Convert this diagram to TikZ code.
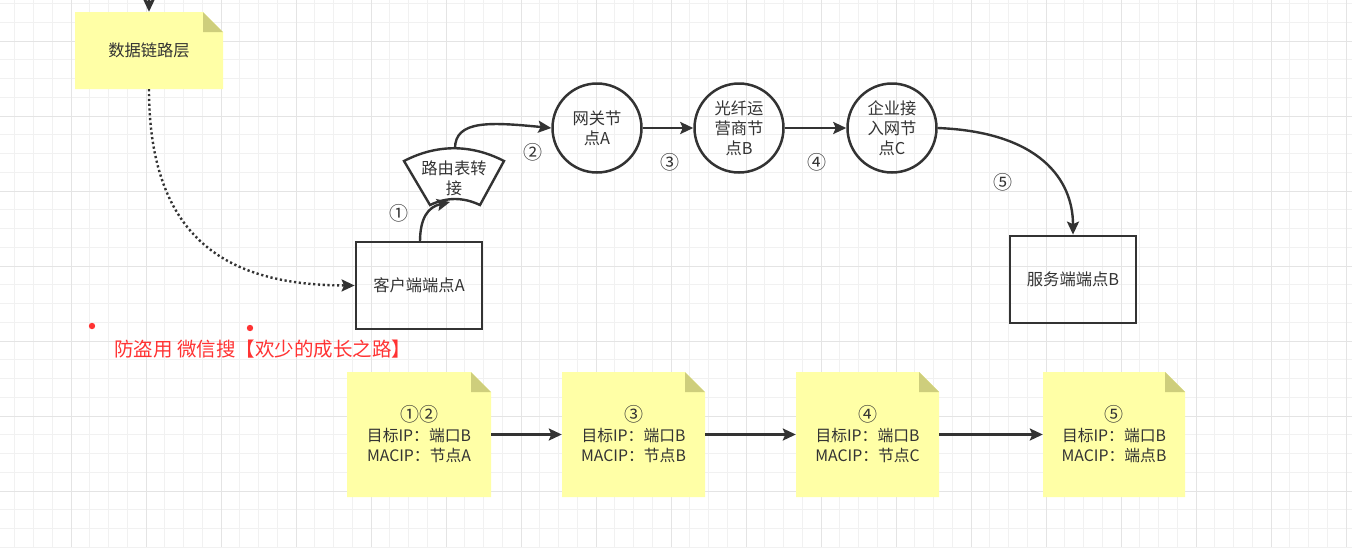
\documentclass[tikz,border=0pt]{standalone}
\usepackage{fontspec}
\setmainfont{Noto Sans CJK SC}
\usetikzlibrary{arrows.meta,calc}
\definecolor{txt}{HTML}{333333}
\definecolor{ln}{HTML}{333333}
\definecolor{notefill}{HTML}{FFFFA6}
\definecolor{foldfill}{HTML}{CECE7C}
\definecolor{gridminor}{HTML}{F1F1F1}
\definecolor{gridmajor}{HTML}{E4E4E4}
\definecolor{warnred}{HTML}{FF3333}
\newcommand{\circd}[1]{{\fontsize{19}{20}\selectfont #1}}
\tikzset{
  lbl/.style={text=txt,font=\fontsize{16.3}{20}\selectfont,align=center,inner sep=0pt},
  notebox/.style={lbl,font=\fontsize{15.8}{20}\selectfont,draw=none,minimum width=#1,minimum height=125pt},
  boxnode/.style={lbl,draw=ln,line width=2.8pt,minimum width=126pt,minimum height=87pt},
  circnode/.style={lbl,draw=ln,line width=2.5pt,circle,minimum size=89pt},
  conn/.style={draw=ln,line width=2.4pt,-{Stealth[length=13pt,width=12pt,inset=2.5pt]}},
  dotconn/.style={draw=ln,line width=2.4pt,dash pattern=on 2.2pt off 2.6pt,-{Stealth[length=13pt,width=12pt,inset=2.5pt]}},
  steplabel/.style={lbl,font=\fontsize{19}{20}\selectfont},
}
\newcommand{\notebg}[4]{%
  \fill[notefill] (#1,#2) -- (#3-20,#2) -- (#3,#2+20) -- (#3,#4) -- (#1,#4) -- cycle;
  \fill[foldfill] (#3-20,#2) -- (#3-20,#2+20) -- (#3,#2+20) -- cycle;}
\begin{document}
\begin{tikzpicture}[x=1pt,y=-1pt]
\useasboundingbox (0,0) rectangle (1352,547);
\fill[white] (0,0) rectangle (1352,547);
% grid
\foreach \k in {-3,...,68} \draw[gridminor,line width=1pt] ({71+18.75*\k},0) -- ({71+18.75*\k},547);
\foreach \k in {-2,...,27} \draw[gridminor,line width=1pt] (0,{41+18.75*\k}) -- (1352,{41+18.75*\k});
\foreach \k in {-1,...,17} \draw[gridmajor,line width=1pt] ({71+75*\k},0) -- ({71+75*\k},547);
\foreach \k in {-1,...,6} \draw[gridmajor,line width=1pt] (0,{41+75*\k}) -- (1352,{41+75*\k});

% note backgrounds
\notebg{75}{12}{223}{89}
\notebg{347}{372}{491}{497}
\notebg{562}{372}{705}{497}
\notebg{796}{372}{939}{497}
\notebg{1043}{372}{1185}{497}

% top note
\node[lbl,minimum width=148pt,minimum height=77pt] (dll) at (149,50.5) {数据链路层};
\coordinate (topin) at (149,-10);
\draw[conn] (topin) -- (dll.north);

% client box
\node[boxnode] (client) at (419,285.5) {客户端端点A};
% routing fan shape
\draw[ln,line width=2.4pt,fill=white] (404,161) .. controls (437,144) and (471,144) .. (504,161)
  -- (480,205) .. controls (463,197) and (447,197) .. (430,205) -- cycle;
\node[lbl] (route) at (454,178) {路由表转\\接};
\coordinate (routeTop) at (455,148.5);
\coordinate (routeBot) at (450,202);
\coordinate (clientTop) at (420,242);

% circles
\node[circnode] (gwA) at (597,128) {网关节\\点A};
\node[circnode] (ispB) at (739,128) {光纤运\\营商节\\点B};
\node[circnode] (entC) at (892,128) {企业接\\入网节\\点C};

% server box
\node[boxnode] (server) at (1073,279.5) {服务端端点B};

% connectors
\draw[dotconn] (dll.south) .. controls (149,250) and (240,285) .. (client.west);
\draw[conn] (clientTop) .. controls (420,218) and (428,207) .. (routeBot);
\draw[conn] (routeTop) .. controls (455,120) and (490,122) .. (gwA.west);
\draw[conn] (gwA.east) -- (ispB.west);
\draw[conn] (ispB.east) -- (entC.west);
\draw[conn] (entC.east) .. controls (1040,132) and (1073,180) .. (server.north);

% step labels
\node[steplabel] (s1) at (399,213) {①};
\node[steplabel] (s2) at (533,152) {②};
\node[steplabel] (s3) at (670,162) {③};
\node[steplabel] (s4) at (817,162) {④};
\node[steplabel] (s5) at (1003,182) {⑤};

% watermark
\fill[warnred] (92,326) circle (3.2pt);
\fill[warnred] (250,328) circle (3.2pt);
\node[lbl,text=warnred,font=\fontsize{19.5}{22}\selectfont,anchor=west] (wm) at (114,349) {防盗用 微信搜【欢少的成长之路】};

% bottom notes
\node[notebox=144pt] (n1) at (419,434.5) {\circd{①②}\\目标IP：端口B\\MACIP：节点A};
\node[notebox=143pt] (n2) at (633.5,434.5) {\circd{③}\\目标IP：端口B\\MACIP：节点B};
\node[notebox=143pt] (n3) at (867.5,434.5) {\circd{④}\\目标IP：端口B\\MACIP：节点C};
\node[notebox=142pt] (n4) at (1114,434.5) {\circd{⑤}\\目标IP：端口B\\MACIP：端点B};
\draw[conn] (n1.east) -- (n2.west);
\draw[conn] (n2.east) -- (n3.west);
\draw[conn] (n3.east) -- (n4.west);
\end{tikzpicture}
\end{document}
